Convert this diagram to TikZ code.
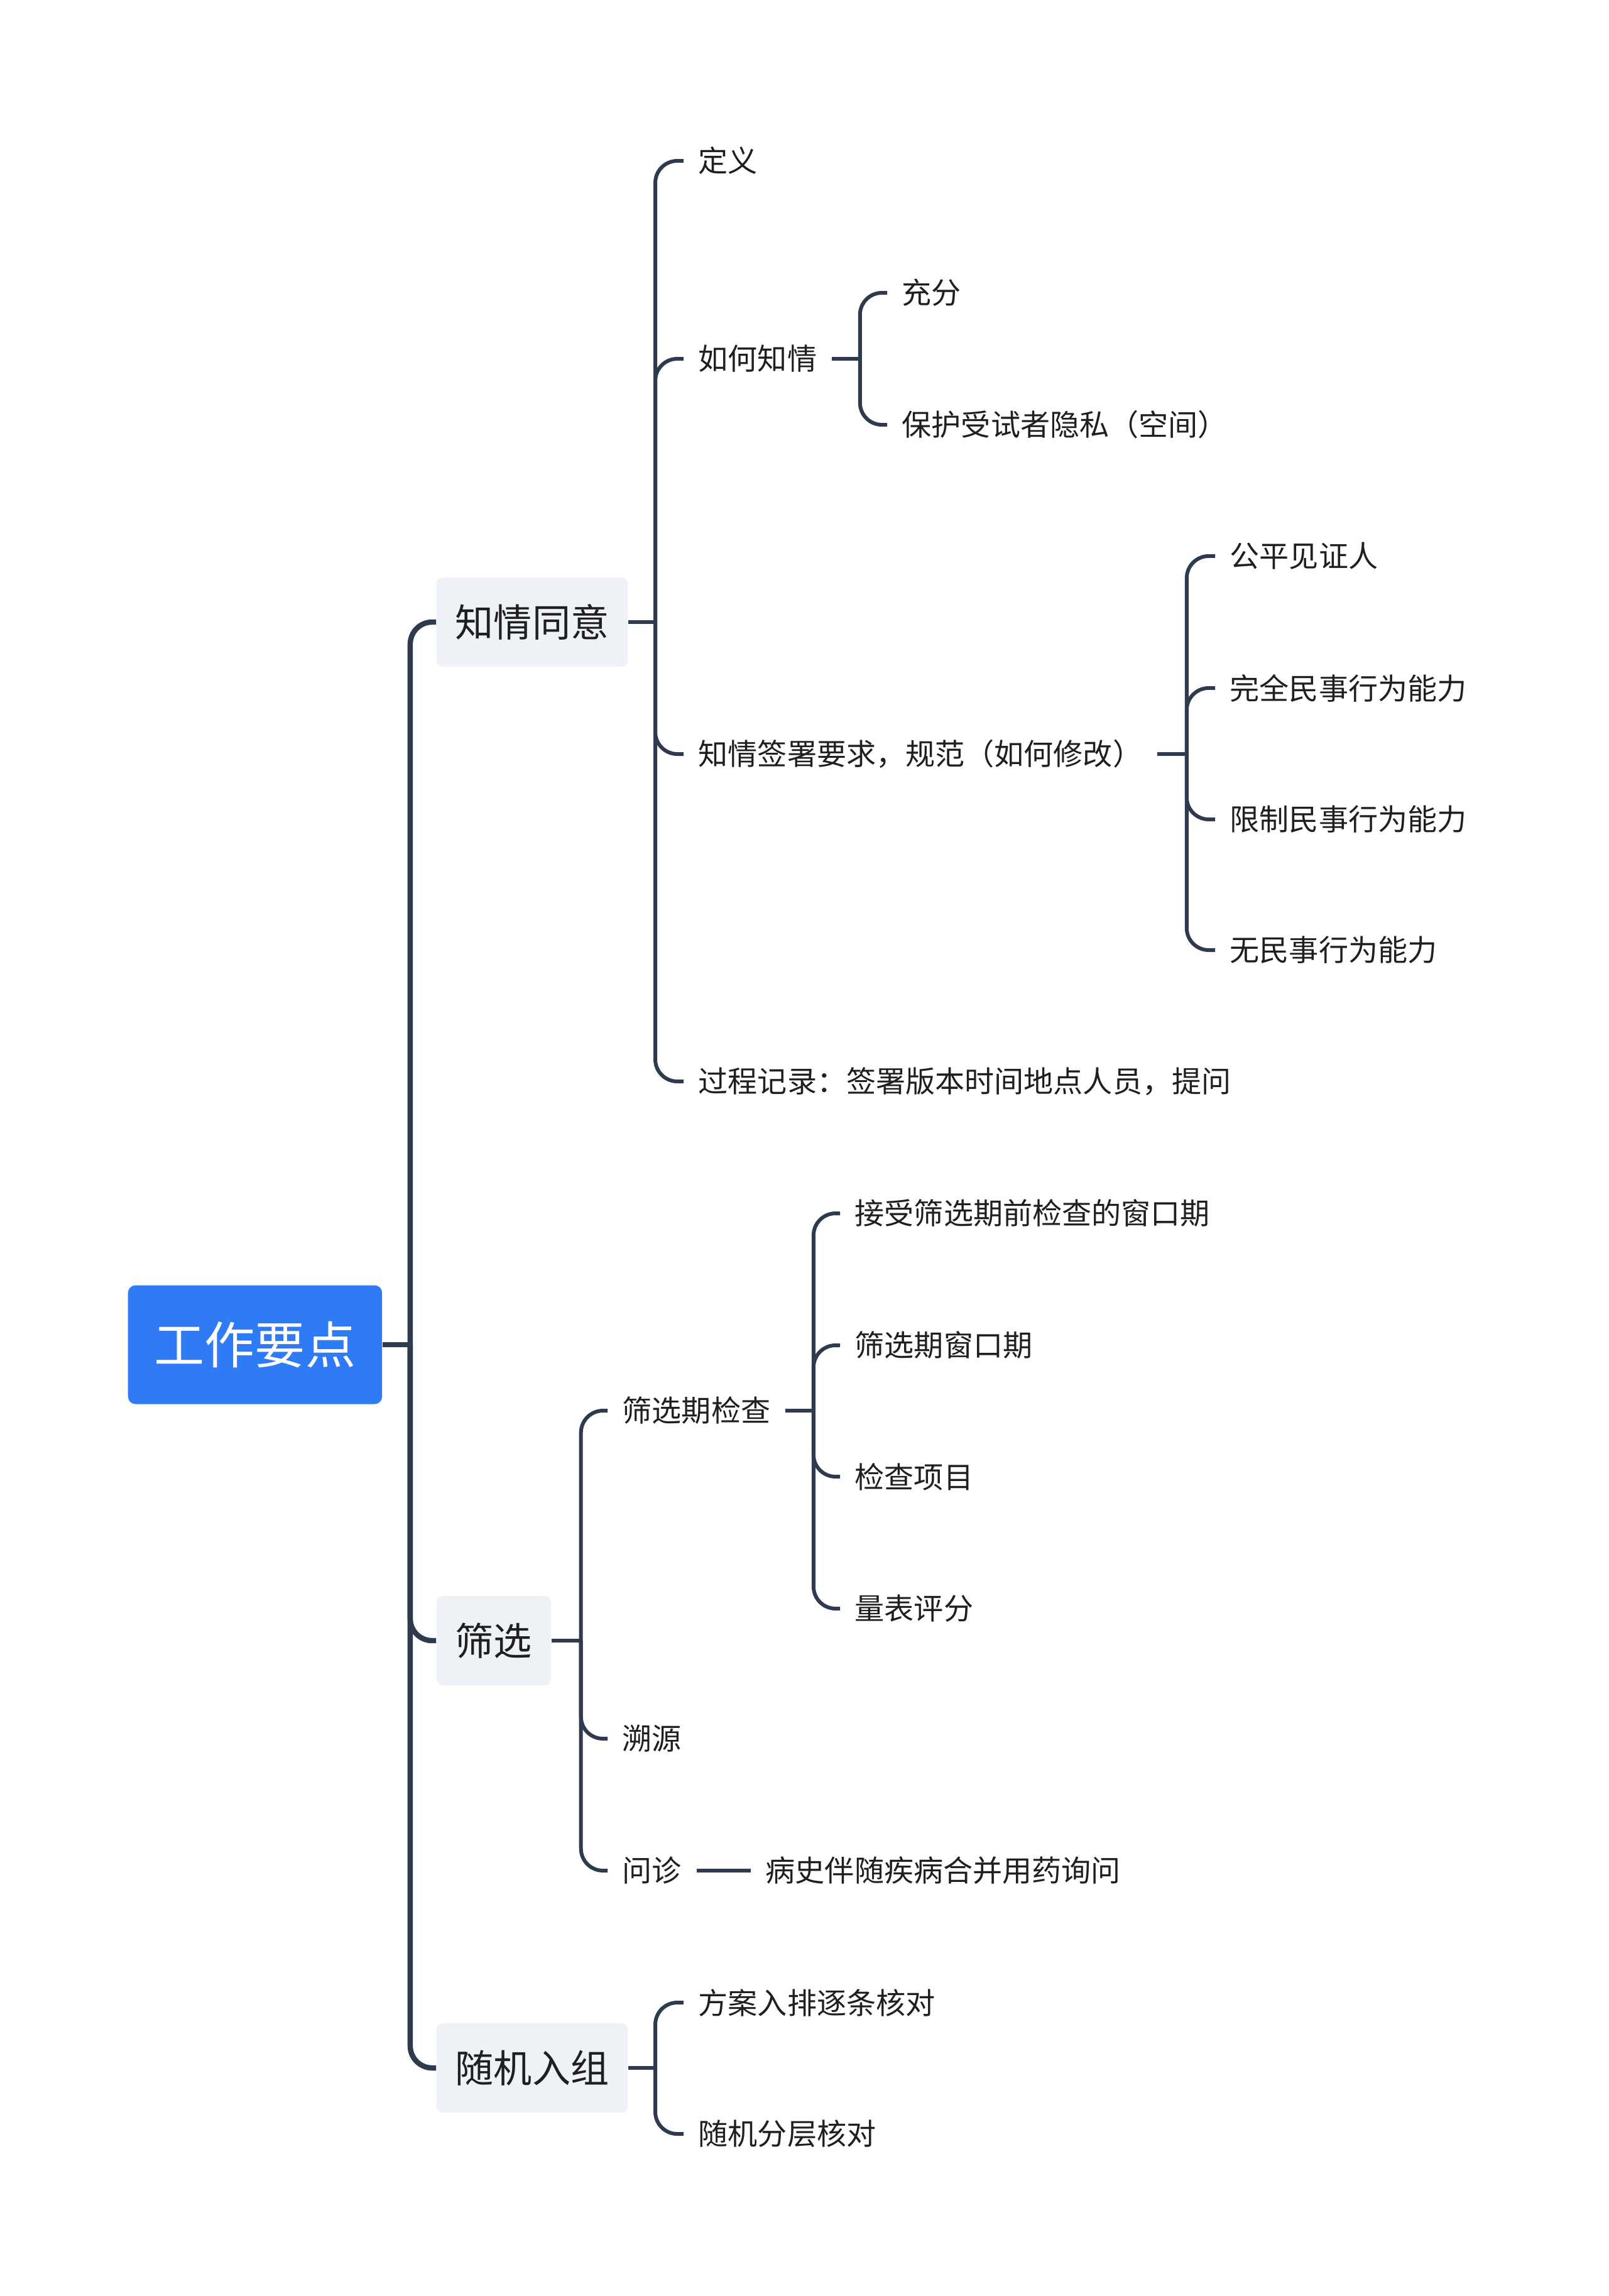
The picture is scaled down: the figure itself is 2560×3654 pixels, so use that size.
\documentclass[tikz,border=0pt]{standalone}
\usepackage{fontspec}
\setmainfont{Noto Sans CJK SC}
\usepackage{tikz}
\usetikzlibrary{positioning,calc}
\definecolor{mmBlue}{HTML}{2F7BF6}
\definecolor{mmLine}{HTML}{2E3B4F}
\definecolor{mmPale}{HTML}{EEF1F5}
\definecolor{mmText}{HTML}{1F1F1F}
\tikzset{
  rootbox/.style={rounded corners=1.2mm, fill=mmBlue, text=white, anchor=west, minimum height=18.9mm, inner xsep=4.2mm, font=\fontsize{22.8}{26}\selectfont},
  topic/.style={rounded corners=1mm, fill=mmPale, text=mmText, anchor=west, minimum height=14.2mm, inner xsep=3mm, font=\fontsize{17.4}{20}\selectfont},
  leaf/.style={anchor=west, inner xsep=2.3mm, inner ysep=0pt, text=mmText, font=\fontsize{13.4}{16}\selectfont},
  trunk/.style={draw=mmLine, line width=2.4pt, rounded corners=3.5mm},
  twig/.style={draw=mmLine, line width=1.7pt, rounded corners=3.5mm}
}

\begin{document}
\begin{tikzpicture}[x=0.1mm,y=-0.1mm]
  \useasboundingbox (0,0) rectangle (2560,3654);

  \node[rootbox] (root) at (203,2140) {工作要点};

  \node[topic] (zqty) at (694,990) {知情同意};
  \node[topic] (sx) at (694,2611) {筛选};
  \node[topic] (sjrz) at (694,3291) {随机入组};

  % 知情同意
  \node[leaf] (dy) at (1088,256) {定义};
  \node[leaf] (hhzq) at (1088,571) {如何知情};
  \node[leaf] (qsyq) at (1088,1200) {知情签署要求，规范（如何修改）};
  \node[leaf] (gcjl) at (1088,1721) {过程记录：签署版本时间地点人员，提问};
  \node[leaf] (cf) at (1412,466) {充分};
  \node[leaf] (bhys) at (1412,676) {保护受试者隐私（空间）};
  \node[leaf] (gpjz) at (1934,885) {公平见证人};
  \node[leaf] (wqms) at (1934,1095) {完全民事行为能力};
  \node[leaf] (xzms) at (1934,1304) {限制民事行为能力};
  \node[leaf] (wms) at (1934,1512) {无民事行为能力};

  % 筛选
  \node[leaf] (sxjc) at (967,2245) {筛选期检查};
  \node[leaf] (sy) at (967,2767) {溯源};
  \node[leaf] (wz) at (967,2977) {问诊};
  \node[leaf] (jssx) at (1337,1931) {接受筛选期前检查的窗口期};
  \node[leaf] (sxck) at (1337,2141) {筛选期窗口期};
  \node[leaf] (jcxm) at (1337,2350) {检查项目};
  \node[leaf] (lbpf) at (1337,2560) {量表评分};
  \node[leaf] (bsbs) at (1195,2977) {病史伴随疾病合并用药询问};

  % 随机入组
  \node[leaf] (farp) at (1088,3187) {方案入排逐条核对};
  \node[leaf] (sjfc) at (1088,3396) {随机分层核对};

  \coordinate (rootB) at ($(root.east)+(44,0)$);
  \draw[trunk] (root.east) -- (rootB);
  \foreach \c in {zqty,sx,sjrz}
    \draw[trunk] (rootB) |- (\c.west);

  \coordinate (zqtyB) at ($(zqty.east)+(43,0)$);
  \draw[twig] (zqty.east) -- (zqtyB);
  \foreach \c in {dy,hhzq,qsyq,gcjl}
    \draw[twig] (zqtyB) |- (\c.west);

  \coordinate (hhzqB) at ($(hhzq.east)+(45,0)$);
  \draw[twig] (hhzq.east) -- (hhzqB);
  \foreach \c in {cf,bhys}
    \draw[twig] (hhzqB) |- (\c.west);

  \coordinate (qsyqB) at ($(qsyq.east)+(47,0)$);
  \draw[twig] (qsyq.east) -- (qsyqB);
  \foreach \c in {gpjz,wqms,xzms,wms}
    \draw[twig] (qsyqB) |- (\c.west);

  \coordinate (sxB) at ($(sx.east)+(47,0)$);
  \draw[twig] (sx.east) -- (sxB);
  \foreach \c in {sxjc,sy,wz}
    \draw[twig] (sxB) |- (\c.west);

  \coordinate (sxjcB) at ($(sxjc.east)+(45,0)$);
  \draw[twig] (sxjc.east) -- (sxjcB);
  \foreach \c in {jssx,sxck,jcxm,lbpf}
    \draw[twig] (sxjcB) |- (\c.west);

  \draw[twig] (wz.east) -- (bsbs.west);

  \coordinate (sjrzB) at ($(sjrz.east)+(43,0)$);
  \draw[twig] (sjrz.east) -- (sjrzB);
  \foreach \c in {farp,sjfc}
    \draw[twig] (sjrzB) |- (\c.west);
\end{tikzpicture}
\end{document}
